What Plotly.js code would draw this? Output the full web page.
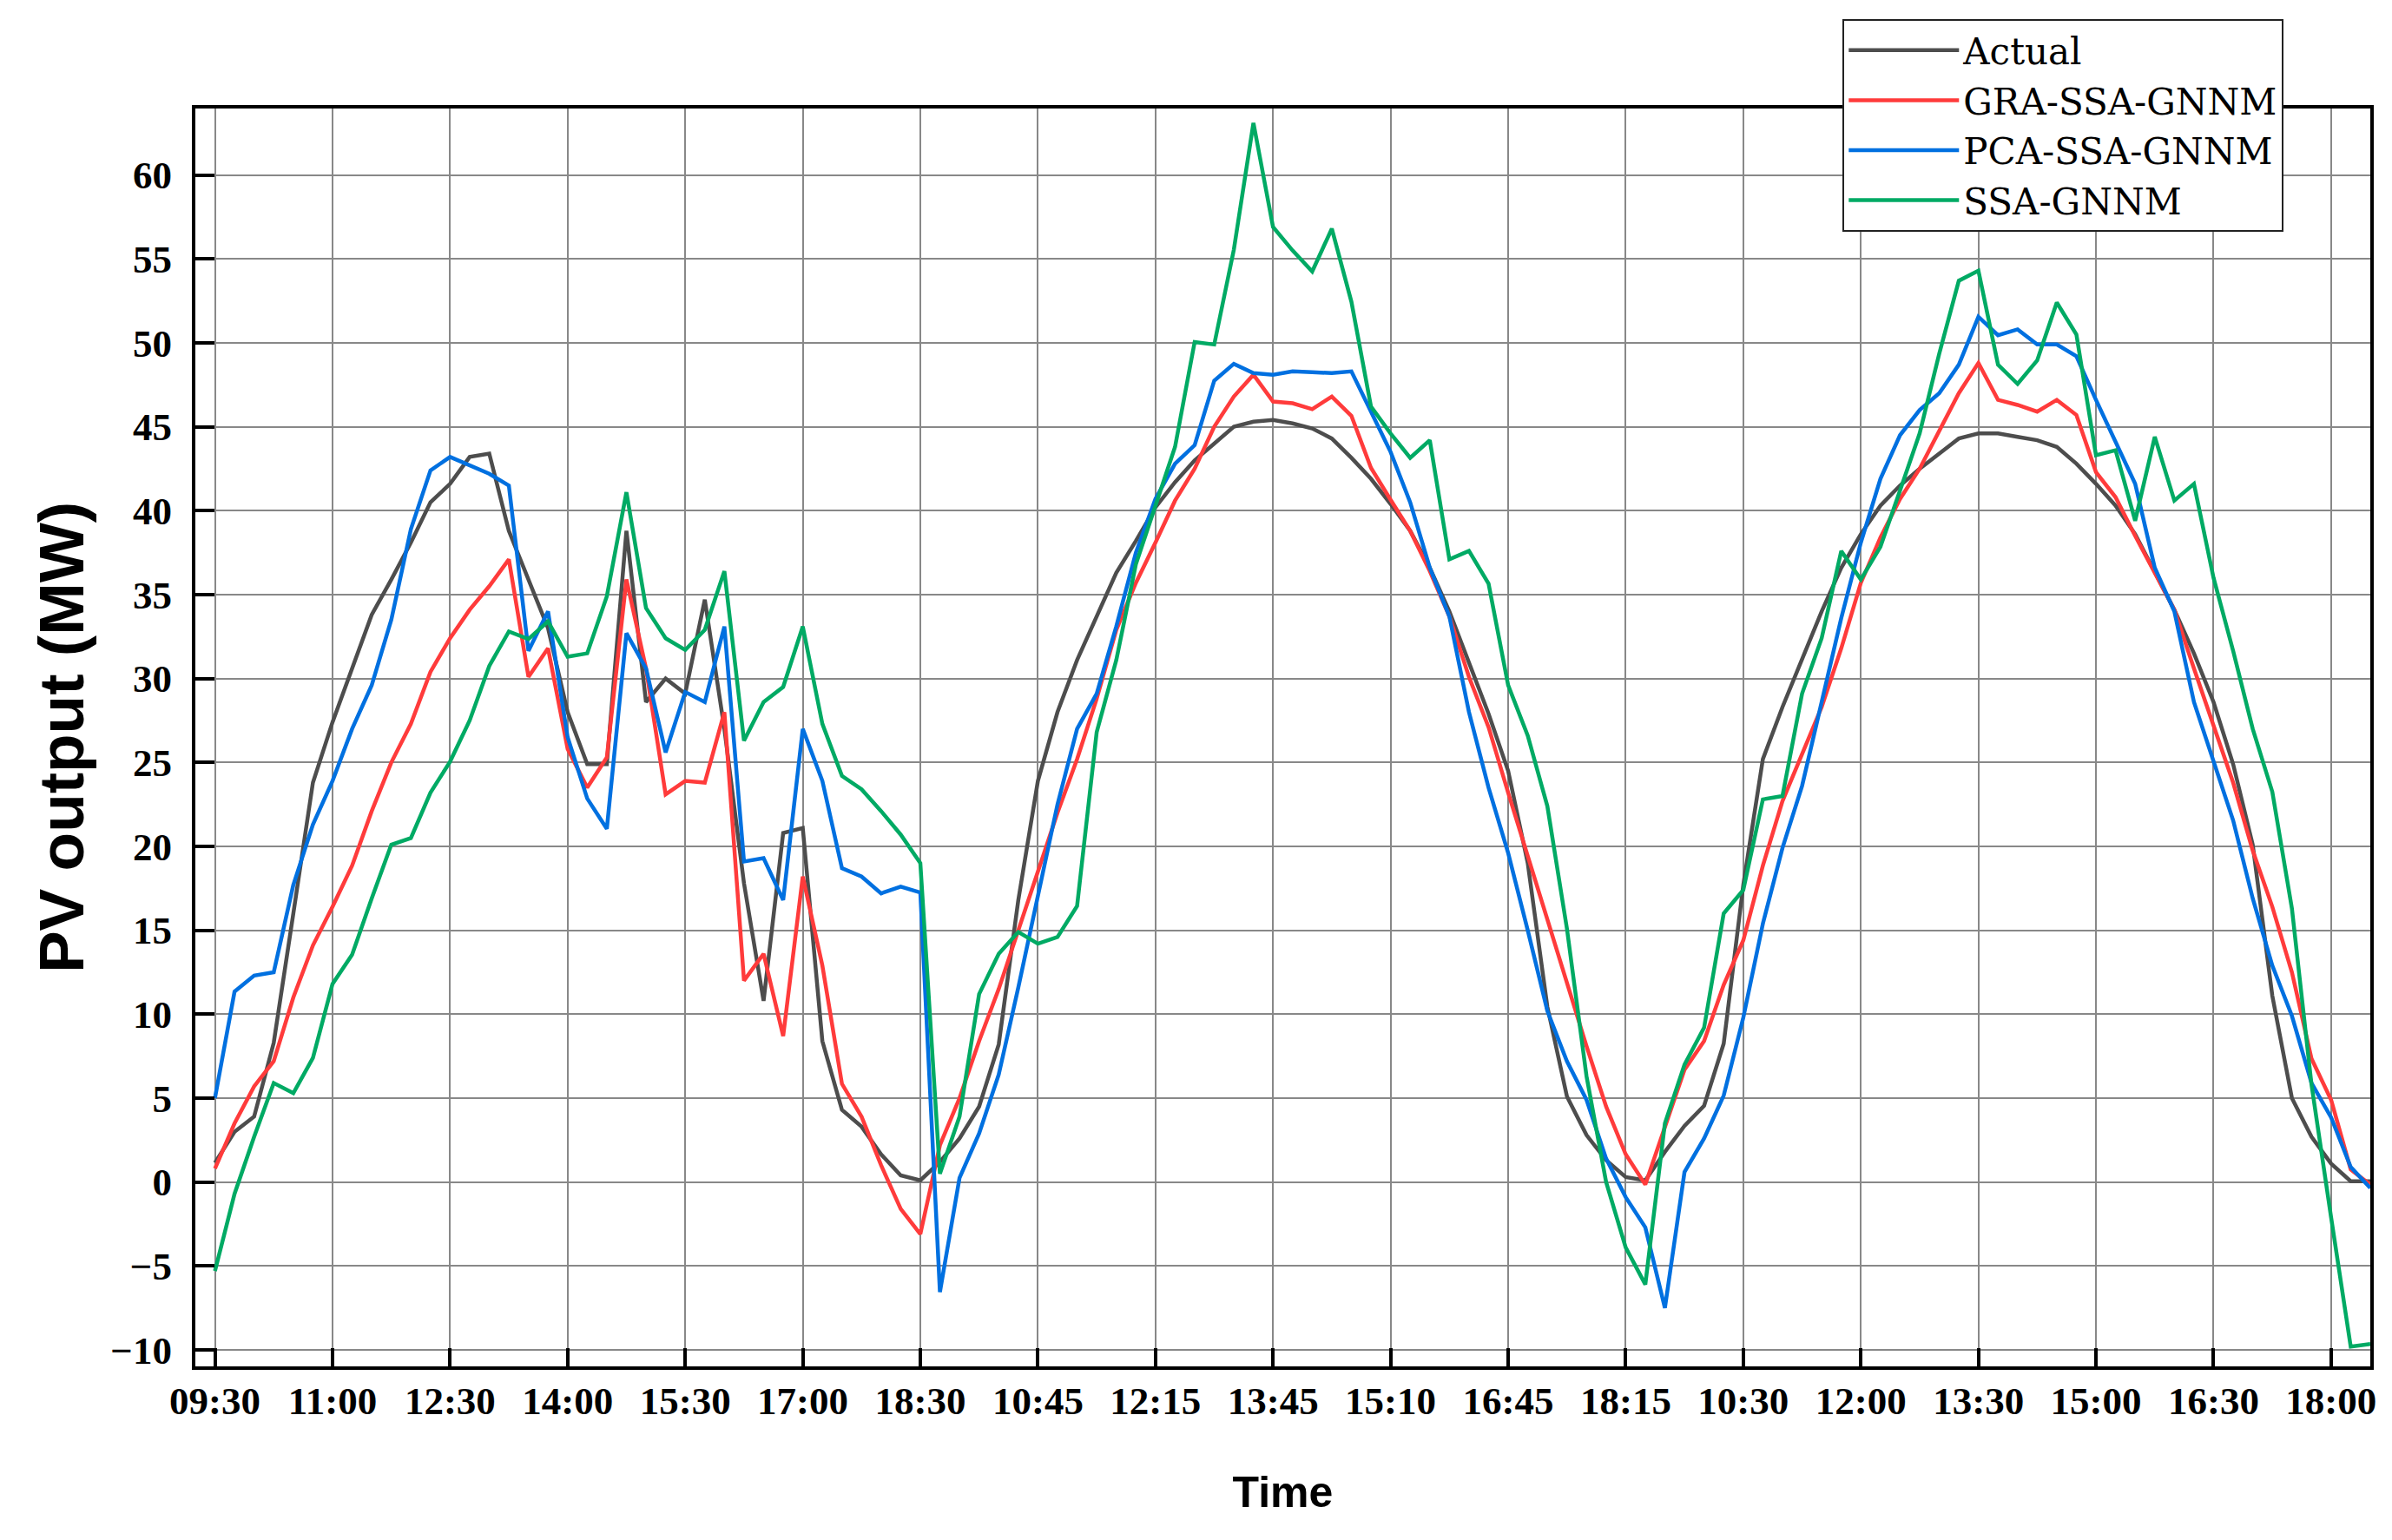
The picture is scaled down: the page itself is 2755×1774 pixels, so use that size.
<!DOCTYPE html>
<html>
<head>
<meta charset="utf-8">
<script src="https://cdn.plot.ly/plotly-3.0.1.min.js"></script>
<style>
  html, body { margin: 0; padding: 0; background: #ffffff; }
  #chart { width: 2755px; height: 1774px; }
</style>
</head>
<body>
<div id="chart"></div>
<script>
const tickLabels = ["09:30","11:00","12:30","14:00","15:30","17:00","18:30","10:45","12:15","13:45","15:10","16:45","18:15","10:30","12:00","13:30","15:00","16:30","18:00"];

const actual = [1.15,3.0,3.9,8.3,16.0,23.8,27.4,30.6,33.8,35.9,38.1,40.5,41.6,43.2,43.4,38.8,35.9,33.0,28.0,24.9,
  24.9,38.8,28.6,30.0,29.1,34.7,27.0,17.8,10.8,20.8,21.1,8.4,4.3,3.3,1.65,0.4,0.1,1.2,2.6,4.5,
  8.2,16.8,23.9,28.0,31.1,33.7,36.3,38.2,40.2,41.7,43.0,44.0,45.0,45.3,45.4,45.2,44.9,44.3,43.15,41.9,
  40.4,38.8,36.6,34.0,31.0,27.9,24.5,19.0,10.45,5.1,2.8,1.3,0.3,0.1,1.8,3.35,4.55,8.25,17.7,25.2,
  28.3,31.1,34.0,36.6,38.6,40.3,41.5,42.5,43.4,44.3,44.6,44.6,44.4,44.2,43.8,42.8,41.6,40.3,38.6,36.4,
  34.1,31.5,28.6,24.9,20.1,11.1,5.0,2.7,1.1,0.05,0.05];

const graSsaGnnm = [0.8,3.5,5.7,7.2,11.0,14.1,16.4,18.85,22.1,25.0,27.3,30.4,32.4,34.1,35.5,37.1,30.1,31.8,25.8,23.5,
  25.3,35.9,30.6,23.1,23.9,23.8,28.0,12.0,13.6,8.7,18.2,12.9,5.85,3.9,1.0,-1.6,-3.1,2.2,5.0,8.4,
  11.5,15.0,18.5,22.0,25.2,28.8,32.9,35.7,38.1,40.6,42.5,45.0,46.8,48.1,46.5,46.4,46.05,46.8,45.65,42.55,
  40.65,38.8,36.4,33.7,30.1,27.1,23.2,19.4,15.75,11.9,8.1,4.5,1.65,-0.15,3.2,6.7,8.4,11.75,14.4,18.85,
  22.7,25.5,28.3,31.8,35.7,38.4,40.7,42.5,44.8,47.0,48.8,46.6,46.3,45.9,46.6,45.7,42.3,40.8,38.5,36.3,
  34.1,30.6,27.25,23.8,19.75,16.4,12.5,7.35,4.9,0.75,-0.15];

const pcaSsaGnnm = [5.0,11.35,12.3,12.5,17.7,21.3,23.9,27.0,29.6,33.5,38.9,42.4,43.2,42.7,42.2,41.5,31.65,34.0,26.5,22.85,
  21.05,32.7,30.6,25.6,29.2,28.6,33.1,19.1,19.3,16.8,27.0,23.9,18.7,18.2,17.2,17.6,17.25,-6.55,0.25,2.9,
  6.4,11.6,17.1,22.5,27.0,29.1,33.1,37.5,40.7,42.8,43.9,47.75,48.75,48.2,48.1,48.3,48.25,48.2,48.3,45.9,
  43.5,40.5,36.6,33.7,28.0,23.5,19.6,15.0,10.2,7.2,4.9,1.4,-0.9,-2.7,-7.5,0.6,2.6,5.15,9.8,15.4,
  19.9,23.6,28.6,33.6,38.1,41.9,44.5,46.0,47.0,48.7,51.55,50.45,50.8,49.9,49.9,49.2,46.6,44.1,41.6,36.6,
  34.0,28.6,25.05,21.55,16.9,12.9,9.9,5.9,3.85,0.9,-0.35];

const ssaGnnm = [-5.3,-0.7,2.7,5.9,5.3,7.4,11.8,13.55,16.9,20.1,20.5,23.2,25.05,27.5,30.75,32.8,32.35,33.4,31.3,31.5,
  34.9,41.1,34.2,32.4,31.7,32.9,36.4,26.3,28.6,29.5,33.1,27.3,24.2,23.4,22.1,20.7,19.0,0.5,3.9,11.2,
  13.6,14.9,14.2,14.6,16.45,26.8,31.1,36.8,40.3,43.8,50.05,49.9,55.55,63.1,56.9,55.5,54.25,56.8,52.45,46.2,
  44.6,43.15,44.2,37.1,37.6,35.65,29.6,26.6,22.4,15.1,6.3,0.0,-3.9,-6.1,3.5,7.0,9.2,16.0,17.4,22.8,
  23.0,29.1,32.4,37.6,35.9,37.85,41.2,44.6,49.35,53.7,54.3,48.7,47.55,48.95,52.4,50.5,43.3,43.6,39.4,44.4,
  40.6,41.6,36.0,31.65,27.0,23.25,16.3,5.8,-2.1,-9.8,-9.65];

const seriesNames = ["Actual","GRA-SSA-GNNM","PCA-SSA-GNNM","SSA-GNNM"];
const seriesColors = ["#4d4d4d","#ff3b3b","#0070e0","#00aa64"];
const seriesData = [actual, graSsaGnnm, pcaSsaGnnm, ssaGnnm];

const xIdx = actual.map((_, i) => i);
const tickVals = tickLabels.map((_, i) => i * 6);
const yTicks = [-10,-5,0,5,10,15,20,25,30,35,40,45,50,55,60];

const traces = seriesData.map((ys, k) => ({
  type: "scatter",
  mode: "lines",
  x: xIdx,
  y: ys,
  name: seriesNames[k],
  line: { color: seriesColors[k], width: 4.5 }
}));

const tickFont = { family: "Liberation Serif, Times New Roman, serif", size: 45, color: "#000", weight: "bold" };

const layout = {
  width: 2755,
  height: 1774,
  paper_bgcolor: "#ffffff",
  plot_bgcolor: "#ffffff",
  margin: { l: 225, r: 25, t: 125, b: 200, pad: 0 },
  showlegend: true,
  legend: {
    x: 0.7574, y: 1.0711, xanchor: "left", yanchor: "top",
    bgcolor: "#ffffff", bordercolor: "#222222", borderwidth: 2,
    font: { family: "DejaVu Serif, serif", size: 42, color: "#000" },
    itemwidth: 127,
    tracegroupgap: 0
  },
  xaxis: {
    range: [-1.0, 110],
    tickmode: "array",
    tickvals: tickVals,
    ticktext: tickLabels,
    ticks: "inside", ticklen: 21, tickwidth: 4, tickcolor: "#000",
    showline: true, linewidth: 4, linecolor: "#000", mirror: true,
    showgrid: true, gridcolor: "#888888", gridwidth: 2,
    zeroline: false,
    tickfont: tickFont,
    ticklabelstandoff: -3,
    title: { text: "Time", font: { family: "Liberation Sans, Arial, sans-serif", size: 50, color: "#000", weight: "bold" }, standoff: 64 }
  },
  yaxis: {
    range: [-10.98, 63.96],
    tickmode: "array",
    tickvals: yTicks,
    ticktext: yTicks.map(v => v < 0 ? "\u2212" + Math.abs(v) : String(v)),
    ticks: "inside", ticklen: 22, tickwidth: 4, tickcolor: "#000",
    showline: true, linewidth: 4, linecolor: "#000", mirror: true,
    showgrid: true, gridcolor: "#888888", gridwidth: 2,
    zeroline: false,
    tickfont: tickFont,
    ticklabelstandoff: 14,
    title: { text: "PV output (MW)", font: { family: "Liberation Sans, Arial, sans-serif", size: 73, color: "#000", weight: "bold" }, standoff: 8 }
  }
};

Plotly.newPlot("chart", traces, layout, { displayModeBar: false, staticPlot: true });
</script>
</body>
</html>
